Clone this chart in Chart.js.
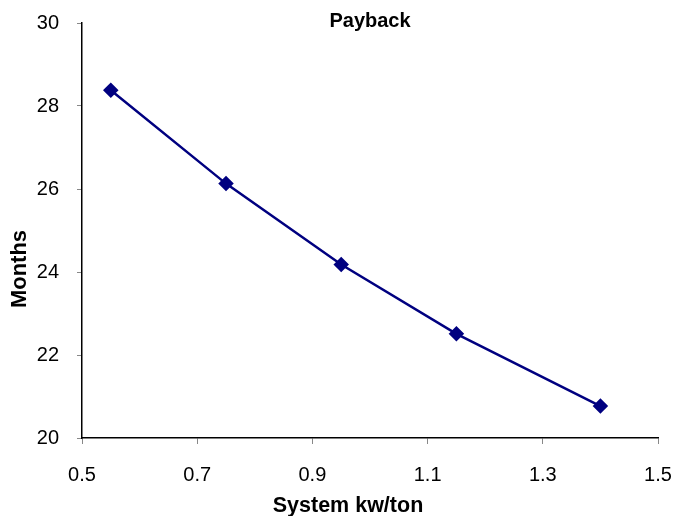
<!DOCTYPE html>
<html>
<head>
<meta charset="utf-8">
<script src="https://cdn.jsdelivr.net/npm/chart.js@4/dist/chart.umd.min.js"></script>
<style>
  html, body { margin: 0; padding: 0; background: #fff; }
  #wrap { width: 675px; height: 516px; }
</style>
</head>
<body>
<div id="wrap"><canvas id="c" width="675" height="516"></canvas></div>
<script>
// System efficiency (kw/ton) vs. payback period (months)
const systemKwPerTon = [0.55, 0.75, 0.95, 1.15, 1.40];
const paybackMonths = [28.38, 26.13, 24.18, 22.51, 20.77];
const xTicks = [0.5, 0.7, 0.9, 1.1, 1.3, 1.5];
const yTicks = [20, 22, 24, 26, 28, 30];

const FONT = '"Liberation Sans", Arial, sans-serif';

// Chart title inside the top of the plot area, plus both axis titles
const titlesPlugin = {
  id: 'chartTitles',
  afterDraw(chart) {
    const { ctx, chartArea } = chart;
    ctx.save();
    ctx.fillStyle = '#000';
    ctx.textBaseline = 'alphabetic';
    ctx.textAlign = 'center';

    ctx.font = 'bold 20px ' + FONT;
    ctx.fillText('Payback', (chartArea.left + chartArea.right) / 2, 27);

    ctx.font = 'bold 21.5px ' + FONT;
    ctx.fillText('System kw/ton', 348, 512);

    ctx.font = 'bold 22px ' + FONT;
    ctx.translate(26, 269);
    ctx.rotate(-Math.PI / 2);
    ctx.fillText('Months', 0, 0);
    ctx.restore();
  }
};

new Chart(document.getElementById('c'), {
  type: 'scatter',
  data: {
    datasets: [{
      label: 'Payback',
      data: systemKwPerTon.map((x, i) => ({ x, y: paybackMonths[i] })),
      showLine: true,
      borderColor: '#000080',
      backgroundColor: '#000080',
      borderWidth: 2.5,
      pointStyle: 'rectRot',
      pointRadius: 6,
      pointHoverRadius: 6,
      tension: 0
    }]
  },
  options: {
    responsive: false,
    animation: false,
    layout: { padding: { top: 23, right: 17, left: 0, bottom: 0 } },
    plugins: {
      legend: { display: false },
      tooltip: { enabled: false }
    },
    scales: {
      x: {
        type: 'linear',
        min: 0.5,
        max: 1.5,
        afterBuildTicks(scale) { scale.ticks = xTicks.map(v => ({ value: v })); },
        afterFit(scale) {
          scale.height = 78;
          scale.paddingLeft = 0;
          scale.paddingRight = 0;
        },
        border: { display: true, color: '#000', width: 1.5 },
        grid: { display: true, drawOnChartArea: false, drawTicks: true, tickLength: 6, color: '#888' },
        ticks: {
          padding: 19,
          color: '#000',
          font: { family: FONT, size: 20 },
          callback: v => v.toFixed(1),
          maxRotation: 0
        },
        title: { display: false }
      },
      y: {
        type: 'linear',
        min: 20,
        max: 30,
        afterBuildTicks(scale) { scale.ticks = yTicks.map(v => ({ value: v })); },
        afterFit(scale) {
          scale.width = 82;
          scale.paddingTop = 0;
          scale.paddingBottom = 0;
        },
        border: { display: true, color: '#000', width: 1.5 },
        grid: { display: true, drawOnChartArea: false, drawTicks: true, tickLength: 5, color: '#888' },
        ticks: {
          padding: 18,
          color: '#000',
          font: { family: FONT, size: 20 },
          callback: v => String(v)
        },
        title: { display: false }
      }
    }
  },
  plugins: [titlesPlugin]
});
</script>
</body>
</html>
